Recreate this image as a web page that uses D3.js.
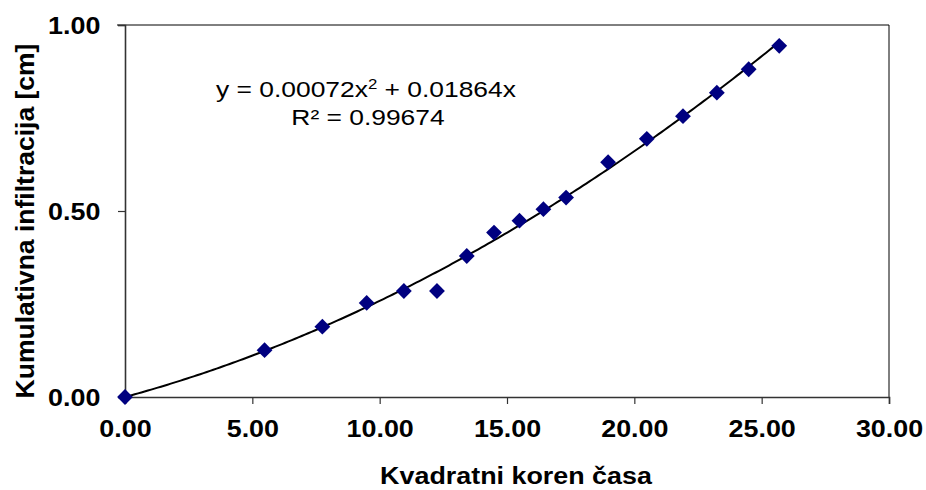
<!DOCTYPE html>
<html>
<head>
<meta charset="utf-8">
<script src="https://cdn.jsdelivr.net/npm/d3@7"></script>
<style>
  body { margin: 0; background: #fff; }
  text { font-family: "Liberation Sans", Arial, sans-serif; }
</style>
</head>
<body>
<div id="chart"></div>
<script>
// square root of time (x) and cumulative infiltration in cm (y)
var sqrtTime = [0, 5.48, 7.75, 9.49, 10.95, 12.25, 13.42, 14.49, 15.49, 16.43, 17.32,
                18.97, 20.49, 21.91, 23.24, 24.49, 25.69];
var infiltration = [0, 0.126, 0.189, 0.253, 0.285, 0.285, 0.379, 0.442, 0.474, 0.505, 0.536,
                    0.631, 0.694, 0.755, 0.818, 0.881, 0.944];

// polynomial trendline y = a*x^2 + b*x
var trendCoef = [0.00072, 0.01864];
var xTicks = [0, 5, 10, 15, 20, 25, 30];
var yTicks = [0, 0.5, 1];

var width = 926, height = 490;
var margin = {top: 25, right: 37, bottom: 93, left: 125};
var stretch = "scale(1.12,1)";

var svg = d3.select("#chart").append("svg")
  .attr("width", width)
  .attr("height", height);

var x = d3.scaleLinear().domain([0, 30]).range([margin.left, width - margin.right]);
var y = d3.scaleLinear().domain([0, 1]).range([height - margin.bottom, margin.top]);

// plot border (top, right)
svg.append("path")
  .attr("d", "M" + (x(0) - 8) + "," + y(1) + "H" + x(30) + "V" + y(0))
  .attr("fill", "none")
  .attr("stroke", "#000")
  .attr("stroke-width", 1);

// axes
var xAxis = svg.append("g")
  .attr("transform", "translate(0," + y(0) + ")")
  .call(d3.axisBottom(x).tickValues(xTicks).tickFormat(d3.format(".2f")).tickSizeOuter(0).tickSize(7));

var yAxis = svg.append("g")
  .attr("transform", "translate(" + x(0) + ",0)")
  .call(d3.axisLeft(y).tickValues(yTicks).tickFormat(d3.format(".2f")).tickSizeOuter(0).tickSize(7));

[xAxis, yAxis].forEach(function (ax) {
  ax.select(".domain").attr("stroke", "#333").attr("stroke-width", 1.6);
  ax.selectAll(".tick line").attr("stroke", "#333").attr("stroke-width", 1.2);
  ax.selectAll(".tick text")
    .attr("fill", "#000")
    .style("font-size", "24px")
    .style("font-weight", "bold")
    .style("font-family", "'Liberation Sans', Arial, sans-serif")
    .attr("transform", stretch);
});

xAxis.selectAll(".tick text").attr("y", 40).attr("dy", 0);
yAxis.selectAll(".tick text").attr("x", -22).attr("dy", "0.36em");

// axis titles
svg.append("text")
  .attr("x", 516 / 1.12)
  .attr("y", 484)
  .attr("transform", "scale(1.12,1)")
  .attr("text-anchor", "middle")
  .style("font-size", "24px")
  .style("font-weight", "bold")
  .text("Kvadratni koren časa");

svg.append("text")
  .attr("transform", "translate(34,221) rotate(-90)")
  .attr("text-anchor", "middle")
  .style("font-size", "26.5px")
  .style("font-weight", "bold")
  .text("Kumulativna infiltracija [cm]");

// trendline
var xMax = d3.max(sqrtTime);
var trend = d3.range(0, 201).map(function (i) {
  var xv = xMax * i / 200;
  return [xv, trendCoef[0] * xv * xv + trendCoef[1] * xv];
});

svg.append("path")
  .datum(trend)
  .attr("fill", "none")
  .attr("stroke", "#000")
  .attr("stroke-width", 2)
  .attr("d", d3.line()
    .x(function (d) { return x(d[0]); })
    .y(function (d) { return y(d[1]); }));

// markers (diamonds)
var diamond = d3.symbol().type(d3.symbolSquare).size(125);
svg.append("g")
  .selectAll("path")
  .data(sqrtTime)
  .enter()
  .append("path")
  .attr("d", diamond)
  .attr("transform", function (d, i) {
    return "translate(" + x(d) + "," + y(infiltration[i]) + ") rotate(45)";
  })
  .attr("fill", "#000080");

// equation label
var eq = svg.append("text")
  .attr("transform", "scale(1.2,1)")
  .attr("text-anchor", "middle")
  .style("font-size", "22px")
  .attr("fill", "#000");

eq.append("tspan")
  .attr("x", 366 / 1.2)
  .attr("y", 97)
  .text("y = 0.00072x")
  .append("tspan")
  .attr("dy", -8)
  .style("font-size", "14px")
  .text("2");
eq.append("tspan")
  .attr("dy", 8)
  .text(" + 0.01864x");

svg.append("text")
  .attr("transform", "scale(1.2,1)")
  .attr("x", 368 / 1.2)
  .attr("y", 125)
  .attr("text-anchor", "middle")
  .style("font-size", "22px")
  .text("R² = 0.99674");
</script>
</body>
</html>
